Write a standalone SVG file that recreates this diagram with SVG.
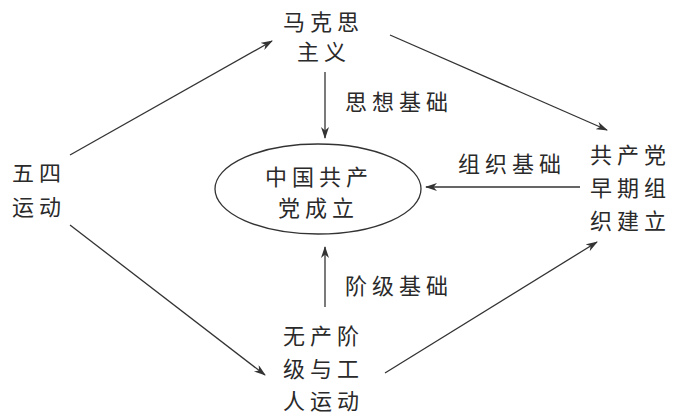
<svg xmlns="http://www.w3.org/2000/svg" width="673" height="416" viewBox="0 0 673 416">
<style>
text{font-family:"Noto Sans CJK SC","Noto Sans CJK TC",sans-serif;font-size:22px;fill:#2a2a2a;letter-spacing:5px}
.ln{stroke:#333;stroke-width:1.3;fill:none;marker-end:url(#ah)}
</style>
<defs>
<marker id="ah" viewBox="0 0 12 8" refX="11" refY="4" markerWidth="12" markerHeight="8" markerUnits="userSpaceOnUse" orient="auto">
<path d="M0,0 L12,4 L0,8 L3.5,4 Z" fill="#333"/>
</marker>
</defs>
<rect width="673" height="416" fill="#fff"/>
<g id="connectors">
<line class="ln" x1="70" y1="155" x2="272" y2="41"/>
<line class="ln" x1="390" y1="35" x2="607" y2="130"/>
<line class="ln" x1="325" y1="72" x2="325" y2="138"/>
<line class="ln" x1="580" y1="187" x2="426" y2="187"/>
<line class="ln" x1="325" y1="307" x2="325" y2="247"/>
<line class="ln" x1="70" y1="225" x2="265" y2="375"/>
<line class="ln" x1="385" y1="373" x2="597" y2="242"/>
</g>
<g id="makesi">
<text x="283" y="30">马克思</text>
<text x="297" y="60">主义</text>
</g>
<g id="zhonggong">
<ellipse cx="318" cy="189" rx="103" ry="45" fill="none" stroke="#333" stroke-width="1.3"/>
<text x="265" y="185">中国共产</text>
<text x="278" y="216">党成立</text>
</g>
<g id="gongchandang">
<text x="590" y="163">共产党</text>
<text x="590" y="196">早期组</text>
<text x="590" y="229">织建立</text>
</g>
<g id="wusi">
<text x="12" y="181">五四</text>
<text x="12" y="215">运动</text>
</g>
<g id="wuchan">
<text x="283" y="344">无产阶</text>
<text x="283" y="377">级与工</text>
<text x="283" y="409">人运动</text>
</g>
<g id="labels">
<text x="345" y="110">思想基础</text>
<text x="458" y="172">组织基础</text>
<text x="345" y="294">阶级基础</text>
</g>
</svg>
